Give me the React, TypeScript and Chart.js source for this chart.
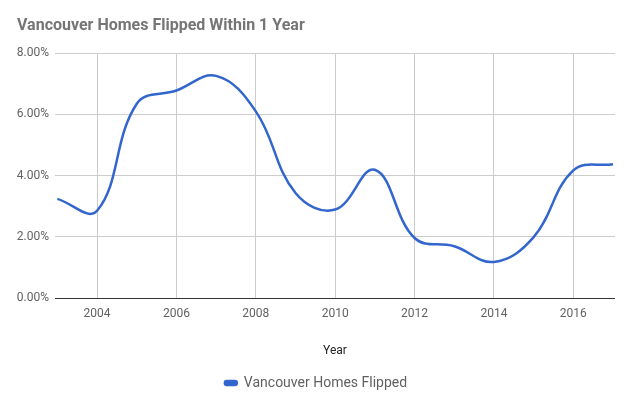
import React, { useEffect, useRef } from "react";
import { Chart, registerables } from "chart.js";

Chart.register(...registerables);

const chartTitle = "Vancouver Homes Flipped Within 1 Year";
const seriesName = "Vancouver Homes Flipped";
const xAxisTitle = "Year";
const years = [2003, 2004, 2005, 2006, 2007, 2008, 2009, 2010, 2011, 2012, 2013, 2014, 2015, 2016, 2017];
const flippedPct = [3.24, 2.85, 6.35, 6.78, 7.26, 6.1, 3.43, 2.89, 4.19, 1.96, 1.69, 1.18, 1.99, 4.17, 4.37];
const xTickYears = [2004, 2006, 2008, 2010, 2012, 2014, 2016];
const yTickValues = [0, 2, 4, 6, 8];

export default function App() {
  const ref = useRef<HTMLCanvasElement | null>(null);

  useEffect(() => {
    if (!ref.current) return;
    const font = "Roboto, 'Noto Sans', Arial, sans-serif";
    const chart = new Chart(ref.current, {
      type: "line",
      data: {
        datasets: [
          {
            label: seriesName,
            data: years.map((y, i) => ({ x: y, y: flippedPct[i] })),
            borderColor: "#3366cc",
            backgroundColor: "#3366cc",
            borderWidth: 2.5,
            pointRadius: 0,
            tension: 0.4,
            fill: false,
          },
        ],
      },
      options: {
        responsive: false,
        animation: false,
        layout: { padding: { left: 17, right: 18, top: 0, bottom: 0 } },
        plugins: {
          title: {
            display: true,
            text: chartTitle,
            align: "start",
            color: "#757575",
            font: { family: font, size: 16, weight: "bold" },
            padding: { top: 16, bottom: 18 },
          },
          legend: {
            position: "bottom",
            maxHeight: 21,
            labels: {
              color: "#616161",
              font: { family: font, size: 14 },
              boxWidth: 12,
              boxHeight: 4,
              useBorderRadius: true,
              borderRadius: 2,
              padding: 4,
            },
          },
          tooltip: { enabled: false },
        },
        scales: {
          x: {
            type: "linear",
            min: 2002.94,
            max: 2017.05,
            afterBuildTicks: (s: any) => {
              s.ticks = xTickYears.map((v) => ({ value: v }));
            },
            ticks: {
              color: "#616161",
              font: { family: font, size: 12 },
              padding: 9,
              maxRotation: 0,
              callback: (v: any) => String(v),
            },
            grid: { color: "#cccccc", drawTicks: false },
            border: { display: false },
            title: {
              display: true,
              text: xAxisTitle,
              color: "#222222",
              font: { family: font, size: 12 },
              padding: { top: 13.2, bottom: 14 },
            },
          },
          y: {
            min: 0,
            max: 8,
            afterBuildTicks: (s: any) => {
              s.ticks = yTickValues.map((v) => ({ value: v }));
            },
            afterFit: (s: any) => {
              s.width = 38;
            },
            ticks: {
              color: "#616161",
              font: { family: font, size: 12 },
              padding: 6,
              callback: (v: any) => Number(v).toFixed(2) + "%",
            },
            grid: {
              color: (c: any) => (c.tick && c.tick.value === 0 ? "#333333" : "#cccccc"),
              drawTicks: false,
            },
            border: { display: false },
          },
        },
      },
    });
    return () => chart.destroy();
  }, []);

  return (
    <div style={{ position: "fixed", left: 0, top: 0, width: 633, height: 393, background: "#fff" }}>
      <canvas ref={ref} width={633} height={393} />
    </div>
  );
}
